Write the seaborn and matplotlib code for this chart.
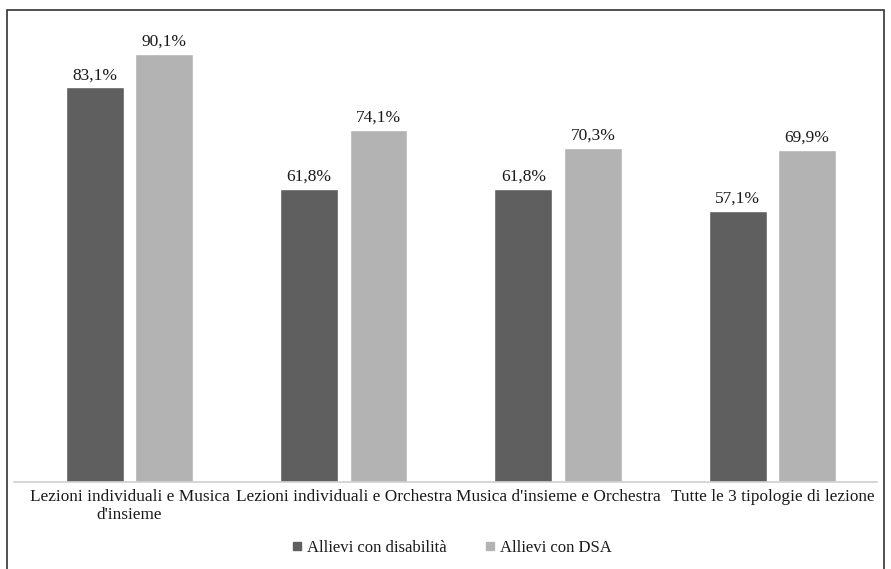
import matplotlib
matplotlib.use("Agg")
import matplotlib.pyplot as plt
import seaborn as sns
import pandas as pd
from matplotlib.patches import Rectangle
from matplotlib.lines import Line2D

categories = ["Lezioni individuali e Musica\nd'insieme",
              "Lezioni individuali e Orchestra",
              "Musica d'insieme e Orchestra",
              "Tutte le 3 tipologie di lezione"]
series = ["Allievi con disabilità", "Allievi con DSA"]
disabilita = [83.1, 61.8, 61.8, 57.1]
dsa = [90.1, 74.1, 70.3, 69.9]
colors = ["#5f5f5f", "#b3b3b3"]

df = pd.DataFrame({
    "cat": categories * 2,
    "serie": [series[0]] * 4 + [series[1]] * 4,
    "val": disabilita + dsa,
})

sns.set_theme(style="white")
plt.rcParams["font.family"] = ["Liberation Serif", "DejaVu Serif"]

W, H = 891, 569
fig = plt.figure(figsize=(W / 100, H / 100), dpi=100)
ax = fig.add_axes([14 / W, 1 - 482 / H, (877 - 14) / W, (482 - 10) / H])

sns.barplot(data=df, x="cat", y="val", hue="serie", order=categories,
            hue_order=series, palette=colors, width=0.648, gap=0.167,
            ax=ax, legend=False, saturation=1)

for cont in ax.containers:
    ax.bar_label(cont, labels=[f"{v:.1f}%".replace(".", ",") for v in cont.datavalues],
                 padding=3, fontsize=12.5, color="#1a1a1a")

ax.set_xlim(-0.539, 3.488)
ax.set_ylim(0, 99.4)
ax.set_xlabel("")
ax.set_ylabel("")
ax.set_yticks([])
for s in ["top", "right", "left"]:
    ax.spines[s].set_visible(False)
ax.spines["bottom"].set_color("#d0d0d0")
ax.spines["bottom"].set_linewidth(1.2)
ax.tick_params(axis="x", length=0, pad=5, labelsize=12.4, colors="#1a1a1a")

handles = [Line2D([], [], marker="s", linestyle="", markersize=6,
                  markerfacecolor=c, markeredgecolor=c) for c in colors]
fig.legend(handles, series, loc="center", bbox_to_anchor=(446 / W, 1 - 548 / H),
           ncol=2, frameon=False, fontsize=12, handletextpad=-0.4,
           columnspacing=1.6, labelcolor="#1a1a1a")

fig.patches.append(Rectangle((7 / W, -0.05), (884 - 7) / W, 1.05 - 10 / H,
                             transform=fig.transFigure, fill=False,
                             edgecolor="#333333", linewidth=1.2))

fig.savefig("out.png", dpi=100)
